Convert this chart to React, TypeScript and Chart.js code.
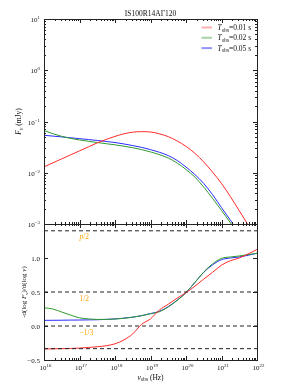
import React, { useEffect, useRef } from "react";
import { Chart, registerables } from "chart.js";
Chart.register(...registerables);

// ---- data (exponents of frequency, Hz) ----
const logNu = [16, 16.25, 16.5, 16.75, 17, 17.25, 17.5, 17.75, 18, 18.25, 18.5, 18.75, 19, 19.25, 19.5, 19.75, 20, 20.25, 20.5, 20.75, 21, 21.25, 21.5, 21.75, 22];

// log10 of F_nu (mJy)
const fluxRedLog = [-1.885, -1.807, -1.729, -1.651, -1.573, -1.495, -1.417, -1.35, -1.29, -1.24, -1.208, -1.198, -1.205, -1.24, -1.295, -1.38, -1.485, -1.62, -1.79, -1.99, -2.21, -2.465, -2.74, -3.02, -3.3];
const fluxGreenLog = [-1.177, -1.238, -1.29, -1.33, -1.36, -1.386, -1.41, -1.433, -1.456, -1.482, -1.512, -1.549, -1.593, -1.646, -1.713, -1.81, -1.937, -2.084, -2.28, -2.503, -2.735, -2.975, -3.22, -3.47, -3.72];
const fluxBlueLog = [-1.269, -1.285, -1.3, -1.318, -1.335, -1.352, -1.37, -1.39, -1.41, -1.438, -1.47, -1.505, -1.548, -1.6, -1.665, -1.76, -1.889, -2.035, -2.21, -2.43, -2.68, -2.925, -3.175, -3.43, -3.69];

// -d(log F)/d(log nu)
const slopeRed = [-0.338, -0.336, -0.333, -0.33, -0.325, -0.316, -0.305, -0.29, -0.262, -0.205, -0.115, 0.025, 0.105, 0.235, 0.32, 0.41, 0.49, 0.585, 0.69, 0.79, 0.895, 0.96, 1.0, 1.06, 1.125];
const slopeGreen = [0.268, 0.25, 0.205, 0.16, 0.12, 0.105, 0.097, 0.097, 0.102, 0.113, 0.13, 0.152, 0.18, 0.21, 0.28, 0.375, 0.49, 0.64, 0.795, 0.915, 0.995, 1.015, 1.03, 1.05, 1.07];
const slopeBlue = [0.083, 0.084, 0.085, 0.087, 0.088, 0.09, 0.092, 0.097, 0.105, 0.115, 0.13, 0.152, 0.183, 0.215, 0.285, 0.38, 0.49, 0.64, 0.79, 0.9, 0.975, 1.0, 1.015, 1.04, 1.07];

const refLines = [1.4, 0.5, 0, -1 / 3];
const refLabels = ["p/2", "1/2", "\u22121/3"];
const xTickExps = [16, 17, 18, 19, 20, 21, 22];
const topTickExps = [-3, -2, -1, 0, 1];
const botTicks = [-0.5, 0, 0.5, 1.0];
const botTickLabels = ["\u22120.5", "0.0", "0.5", "1.0"];
const seriesTimes = ["0.01", "0.02", "0.05"];
const title = "IS100R14A\u0393120";

const lineColors = ["#ff2a2a", "#2e9a2e", "#2a2aff"];
const legendColors = ["rgba(255,80,80,0.45)", "rgba(60,160,60,0.45)", "rgba(60,60,255,0.55)"];
const FONT = "'Liberation Serif', 'DejaVu Serif', serif";

type Part = { t: string; it?: boolean; sub?: boolean; sup?: boolean };

function drawRich(ctx: CanvasRenderingContext2D, parts: Part[], x: number, y: number, align: "left" | "center" | "right", size: number, color = "#111") {
  const fontFor = (p: Part) => `${p.it ? "italic " : ""}${p.sub || p.sup ? size * 0.7 : size}px ${FONT}`;
  let total = 0;
  const widths = parts.map((p) => {
    ctx.font = fontFor(p);
    const w = ctx.measureText(p.t).width;
    total += w;
    return w;
  });
  let cx = align === "left" ? x : align === "center" ? x - total / 2 : x - total;
  ctx.fillStyle = color;
  ctx.textBaseline = "alphabetic";
  ctx.textAlign = "left";
  parts.forEach((p, i) => {
    ctx.font = fontFor(p);
    const dy = p.sub ? size * 0.25 : p.sup ? -size * 0.42 : 0;
    ctx.fillText(p.t, cx, y + dy);
    cx += widths[i];
  });
}

function frameAndTicks(chart: any, which: "top" | "bottom") {
  const ctx: CanvasRenderingContext2D = chart.ctx;
  const { left, right, top, bottom } = chart.chartArea;
  const xs = chart.scales.x;
  const ys = chart.scales.y;
  ctx.save();
  ctx.strokeStyle = "#222";
  ctx.lineWidth = 1;
  ctx.strokeRect(Math.round(left) + 0.5, Math.round(top) + 0.5, Math.round(right - left), Math.round(bottom - top));
  ctx.beginPath();
  const vtick = (px: number, len: number) => {
    const X = Math.round(px) + 0.5;
    ctx.moveTo(X, top);
    ctx.lineTo(X, top + len);
    ctx.moveTo(X, bottom);
    ctx.lineTo(X, bottom - len);
  };
  const htick = (py: number, len: number) => {
    const Y = Math.round(py) + 0.5;
    ctx.moveTo(left, Y);
    ctx.lineTo(left + len, Y);
    ctx.moveTo(right, Y);
    ctx.lineTo(right - len, Y);
  };
  xTickExps.forEach((e, i) => {
    vtick(xs.getPixelForValue(Math.pow(10, e)), 4);
    if (i < xTickExps.length - 1) {
      for (let k = 2; k <= 9; k++) vtick(xs.getPixelForValue(k * Math.pow(10, e)), 2);
    }
  });
  if (which === "top") {
    topTickExps.forEach((e, i) => {
      htick(ys.getPixelForValue(Math.pow(10, e)), 4);
      if (i < topTickExps.length - 1) {
        for (let k = 2; k <= 9; k++) htick(ys.getPixelForValue(k * Math.pow(10, e)), 2);
      }
    });
  } else {
    botTicks.forEach((v) => htick(ys.getPixelForValue(v), 4));
  }
  ctx.stroke();
  ctx.restore();
}

const topPlugin = {
  id: "topDeco",
  afterDraw(chart: any) {
    const ctx: CanvasRenderingContext2D = chart.ctx;
    const { left, right, top, bottom } = chart.chartArea;
    const ys = chart.scales.y;
    frameAndTicks(chart, "top");
    ctx.save();
    topTickExps.forEach((e) => {
      const py = ys.getPixelForValue(Math.pow(10, e));
      drawRich(ctx, [{ t: "10" }, { t: e < 0 ? "\u2212" + Math.abs(e) : String(e), sup: true }], left - 4, py + 3, "right", 7);
    });
    drawRich(ctx, [{ t: title }], (left + right) / 2, top - 3, "center", 7.5);
    ctx.save();
    ctx.translate(21, (top + bottom) / 2);
    ctx.rotate(-Math.PI / 2);
    drawRich(ctx, [{ t: "F", it: true }, { t: "\u03bd", it: true, sub: true }, { t: " (mJy)" }], 0, 0, "center", 7.5);
    ctx.restore();
    seriesTimes.forEach((t, i) => {
      const y = 27.5 + i * 10.3;
      ctx.strokeStyle = legendColors[i];
      ctx.lineWidth = 2;
      ctx.beginPath();
      ctx.moveTo(201.5, y);
      ctx.lineTo(212, y);
      ctx.stroke();
      drawRich(ctx, [{ t: "T", it: true }, { t: "obs", sub: true }, { t: "=" + t + " s" }], 217.5, y + 2.5, "left", 7.5);
    });
    ctx.restore();
  },
};

const bottomPlugin = {
  id: "botDeco",
  afterDraw(chart: any) {
    const ctx: CanvasRenderingContext2D = chart.ctx;
    const { left, right, top, bottom } = chart.chartArea;
    const xs = chart.scales.x;
    const ys = chart.scales.y;
    frameAndTicks(chart, "bottom");
    ctx.save();
    botTicks.forEach((v, i) => {
      drawRich(ctx, [{ t: botTickLabels[i] }], left - 4, ys.getPixelForValue(v) + 2.5, "right", 7);
    });
    xTickExps.forEach((e) => {
      drawRich(ctx, [{ t: "10" }, { t: String(e), sup: true }], xs.getPixelForValue(Math.pow(10, e)) + 1.5, bottom + 9.5, "center", 7);
    });
    refLabels.forEach((lab, i) => {
      const py = ys.getPixelForValue(refLines[i]) + 8.5;
      const px = xs.getPixelForValue(1e17);
      const parts: Part[] = lab === "p/2" ? [{ t: "p", it: true }, { t: "/2" }] : [{ t: lab }];
      drawRich(ctx, parts, px, py, "left", 7.5, "#ffa500");
    });
    drawRich(ctx, [{ t: "\u03bd", it: true }, { t: "obs", sub: true }, { t: " (Hz)" }], (left + right) / 2, bottom + 19.5, "center", 7.5);
    ctx.save();
    ctx.translate(26, (top + bottom) / 2);
    ctx.rotate(-Math.PI / 2);
    drawRich(ctx, [{ t: "-d(log " }, { t: "F", it: true }, { t: "\u03bd", it: true, sub: true }, { t: ")/d(log " }, { t: "\u03bd", it: true }, { t: ")" }], 0, 0, "center", 7);
    ctx.restore();
    ctx.restore();
  },
};

function toPts(vals: number[], isLog: boolean) {
  return logNu.map((e, i) => ({ x: Math.pow(10, e), y: isLog ? Math.pow(10, vals[i]) : vals[i] }));
}

export default function App() {
  const topRef = useRef<HTMLCanvasElement>(null);
  const botRef = useRef<HTMLCanvasElement>(null);
  useEffect(() => {
    const common = (ds: any[], yScale: any, padding: any, plugin: any, canvas: HTMLCanvasElement) =>
      new Chart(canvas, {
        type: "line",
        data: { datasets: ds },
        options: {
          animation: false,
          responsive: false,
          devicePixelRatio: 1,
          layout: { padding },
          plugins: { legend: { display: false }, tooltip: { enabled: false }, title: { display: false } },
          scales: {
            x: { type: "logarithmic", min: 1e16, max: 1e22, display: false },
            y: yScale,
          },
        },
        plugins: [plugin],
      } as any);

    const lineDs = (vals: number[], color: string, isLog: boolean) => ({
      data: toPts(vals, isLog),
      borderColor: color,
      borderWidth: 1,
      pointRadius: 0,
      fill: false,
      cubicInterpolationMode: "monotone",
    });

    const topChart = common(
      [lineDs(fluxRedLog, lineColors[0], true), lineDs(fluxGreenLog, lineColors[1], true), lineDs(fluxBlueLog, lineColors[2], true)],
      { type: "logarithmic", min: 1e-3, max: 10, display: false },
      { left: 44, right: 37, top: 19, bottom: 6 },
      topPlugin,
      topRef.current!
    );

    const refDs = refLines.map((v) => ({
      data: [{ x: 1e16, y: v }, { x: 1e22, y: v }],
      borderColor: "#222",
      borderWidth: 1,
      borderDash: [4, 3],
      pointRadius: 0,
      fill: false,
    }));
    const botChart = common(
      [...refDs, lineDs(slopeRed, lineColors[0], false), lineDs(slopeGreen, lineColors[1], false), lineDs(slopeBlue, lineColors[2], false)],
      { type: "linear", min: -0.5, max: 1.5, display: false },
      { left: 44, right: 37, top: 6, bottom: 32 },
      bottomPlugin,
      botRef.current!
    );
    return () => {
      topChart.destroy();
      botChart.destroy();
    };
  }, []);

  return (
    <div style={{ position: "fixed", left: 0, top: 0, width: 294, height: 392, background: "#fff" }}>
      <canvas ref={topRef} width={294} height={230} style={{ position: "absolute", left: 0, top: 0 }} />
      <canvas ref={botRef} width={294} height={174} style={{ position: "absolute", left: 0, top: 218 }} />
    </div>
  );
}
